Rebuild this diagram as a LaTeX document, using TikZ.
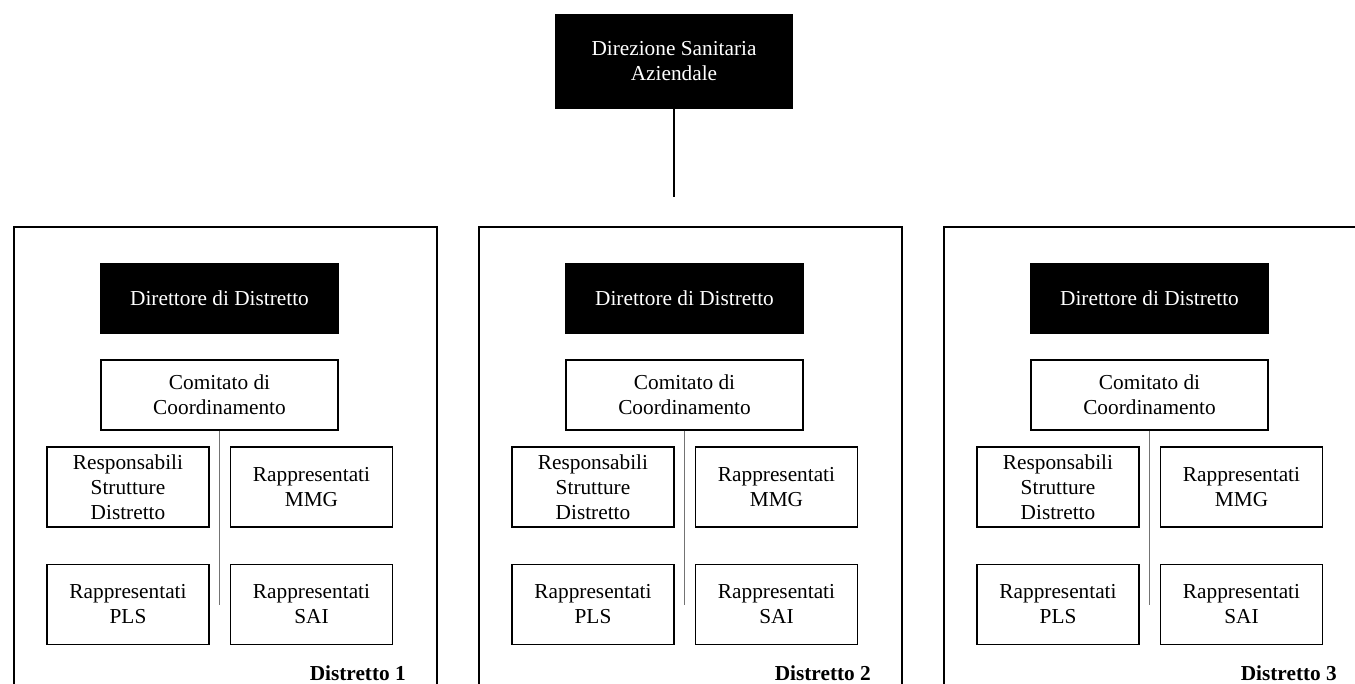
\documentclass[tikz,border=0pt]{standalone}
\usepackage{fontspec}
\setmainfont{Liberation Serif}

\begin{document}
\begin{tikzpicture} [
      x=1pt, y=-1pt,
      boss/.style={draw, fill=black, text=white, rectangle, line width=1.2pt, minimum width=237pt, minimum height=69pt, align=center, inner sep=2pt},
      committee/.style={draw, rectangle, line width=1.2pt, minimum width=237pt, minimum height=70pt, align=center, inner sep=2pt},
      unit/.style={draw, rectangle, line width=1.2pt, minimum width=162pt, minimum height=80pt, align=center, inner sep=2pt},
      district/.style={draw, rectangle, line width=2pt, minimum width=423pt, minimum height=480pt, anchor=north west},
      stem/.style={draw=black!55, line width=1pt},
      tag/.style={font=\fontsize{21.3}{25}\selectfont\bfseries, anchor=base east, inner sep=0pt},
      every node/.append style={font=\fontsize{21.3}{25}\selectfont}
   ]
    \clip (0,0) rectangle (1355,684);

    \node[boss, minimum width=236pt, minimum height=93pt] (ndDirezione) at (674,61.5) {Direzione Sanitaria\\Aziendale};
    \coordinate (hub) at (674,197);
    \draw[line width=2.2pt] (ndDirezione) -- (hub);

    % Distretto 1
    \node[district] (frame1) at (13,226) {};
    \node[boss] (dir1) at (219.5,298.5) {Direttore di Distretto};
    \node[committee, below of=dir1, node distance=96.5pt] (com1) {Comitato di\\Coordinamento};
    \node[unit, below of=com1, node distance=92pt, xshift=-91.5pt] (resp1) {Responsabili\\Strutture\\Distretto};
    \node[unit, right of=resp1, node distance=183.5pt] (mmg1) {Rappresentati\\MMG};
    \node[unit, below of=resp1, node distance=117.5pt] (pls1) {Rappresentati\\PLS};
    \node[unit, right of=pls1, node distance=183.5pt] (sai1) {Rappresentati\\SAI};
    \draw[stem] (com1.south) -- (com1.south |- pls1.center);
    \node[tag] (tag1) at (406,680) {Distretto 1};

    % Distretto 2
    \node[district] (frame2) at (478,226) {};
    \node[boss] (dir2) at (684.5,298.5) {Direttore di Distretto};
    \node[committee, below of=dir2, node distance=96.5pt] (com2) {Comitato di\\Coordinamento};
    \node[unit, below of=com2, node distance=92pt, xshift=-91.5pt] (resp2) {Responsabili\\Strutture\\Distretto};
    \node[unit, right of=resp2, node distance=183.5pt] (mmg2) {Rappresentati\\MMG};
    \node[unit, below of=resp2, node distance=117.5pt] (pls2) {Rappresentati\\PLS};
    \node[unit, right of=pls2, node distance=183.5pt] (sai2) {Rappresentati\\SAI};
    \draw[stem] (com2.south) -- (com2.south |- pls2.center);
    \node[tag] (tag2) at (871,680) {Distretto 2};

    % Distretto 3
    \node[district] (frame3) at (943,226) {};
    \node[boss] (dir3) at (1149.5,298.5) {Direttore di Distretto};
    \node[committee, below of=dir3, node distance=96.5pt] (com3) {Comitato di\\Coordinamento};
    \node[unit, below of=com3, node distance=92pt, xshift=-91.5pt] (resp3) {Responsabili\\Strutture\\Distretto};
    \node[unit, right of=resp3, node distance=183.5pt] (mmg3) {Rappresentati\\MMG};
    \node[unit, below of=resp3, node distance=117.5pt] (pls3) {Rappresentati\\PLS};
    \node[unit, right of=pls3, node distance=183.5pt] (sai3) {Rappresentati\\SAI};
    \draw[stem] (com3.south) -- (com3.south |- pls3.center);
    \node[tag] (tag3) at (1337,680) {Distretto 3};

  \end{tikzpicture}
\end{document}
